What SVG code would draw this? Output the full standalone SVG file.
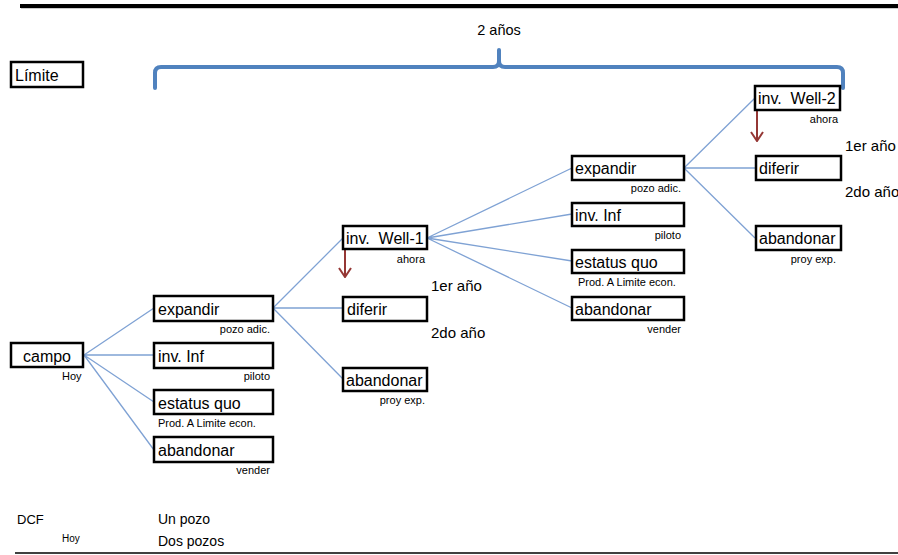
<svg xmlns="http://www.w3.org/2000/svg" width="898" height="555" viewBox="0 0 898 555">
  <style>
    text { font-family: "Liberation Sans", Arial, sans-serif; fill: #000; }
    .box rect { fill: #fff; stroke: #000; stroke-width: 2.5; }
    .lbl { font-size: 16px; }
    .sub { font-size: 11px; }
    .yr { font-size: 15px; }
    .end { text-anchor: end; }
    .edge { stroke: #7fa2d4; stroke-width: 1.3; fill: none; }
    .step { stroke: #953735; stroke-width: 2; fill: none; }
  </style>
  <defs>
    <marker id="chev" viewBox="0 0 11 14" refX="10" refY="7" markerWidth="11" markerHeight="14" markerUnits="userSpaceOnUse" orient="auto">
      <path d="M1,1 L10,7 L1,13" fill="none" stroke="#953735" stroke-width="2"/>
    </marker>
  </defs>

  <!-- header rule -->
  <line x1="21" y1="8" x2="898" y2="8" stroke="#999" stroke-width="2" opacity="0.5"/>
  <line x1="20" y1="6" x2="898" y2="6" stroke="#000" stroke-width="4"/>

  <!-- time span brace -->
  <g id="brace">
    <path d="M155,88 V73 Q155,67 161,67 H493 Q499,67 499,61 V50 M499,61 Q499,67 505,67 H837 Q843,67 843,73 V88" fill="none" stroke="#5082be" stroke-width="4" stroke-linecap="round"/>
    <text x="499" y="35" font-size="14.5" text-anchor="middle">2 años</text>
  </g>

  <g id="limite" class="box">
    <rect x="11" y="62" width="72" height="25"/>
    <text class="lbl" x="15" y="81">Límite</text>
  </g>

  <!-- connectors -->
  <g id="connectors">
    <path class="edge" d="M84,355 L154,308 M84,355 L154,355 M84,355 L154,402 M84,355 L154,450"/>
    <path class="edge" d="M273,308 L343,238 M273,308 L343,308 M273,308 L343,379"/>
    <path class="edge" d="M427,238 L572,168 M427,238 L572,214 M427,238 L572,261 M427,238 L572,308"/>
    <path class="edge" d="M684,168 L755,98 M684,168 L755,168 M684,168 L755,238"/>
    <line class="step" x1="345" y1="250" x2="345" y2="277" marker-end="url(#chev)"/>
    <line class="step" x1="757" y1="111" x2="757" y2="141" marker-end="url(#chev)"/>
  </g>

  <!-- root -->
  <g id="campo" class="box">
    <rect x="11" y="343" width="72" height="24"/>
    <text class="lbl" x="47" y="362" text-anchor="middle">campo</text>
    <text class="sub" x="62" y="380">Hoy</text>
  </g>

  <!-- first stage -->
  <g id="n1-expandir" class="box">
    <rect x="154" y="296" width="119" height="25"/>
    <text class="lbl" x="158" y="315">expandir</text>
    <text class="sub end" x="270" y="333">pozo adic.</text>
  </g>
  <g id="n1-inv" class="box">
    <rect x="154" y="343" width="119" height="25"/>
    <text class="lbl" x="158" y="362">inv. Inf</text>
    <text class="sub end" x="270" y="380">piloto</text>
  </g>
  <g id="n1-estatus" class="box">
    <rect x="154" y="390" width="119" height="24"/>
    <text class="lbl" x="158" y="409">estatus quo</text>
    <text class="sub" x="158" y="427">Prod. A Limite econ.</text>
  </g>
  <g id="n1-abandonar" class="box">
    <rect x="154" y="437" width="119" height="25"/>
    <text class="lbl" x="158" y="456">abandonar</text>
    <text class="sub end" x="270" y="474">vender</text>
  </g>

  <!-- second stage -->
  <g id="n2-well1" class="box">
    <rect x="343" y="226" width="84" height="23"/>
    <text class="lbl" x="346" y="244" xml:space="preserve">inv.  Well-1</text>
    <text class="sub end" x="425" y="263">ahora</text>
  </g>
  <g id="n2-diferir" class="box">
    <rect x="343" y="297" width="84" height="24"/>
    <text class="lbl" x="347" y="315">diferir</text>
  </g>
  <g id="n2-abandonar" class="box">
    <rect x="343" y="368" width="84" height="23"/>
    <text class="lbl" x="346" y="386">abandonar</text>
    <text class="sub end" x="425" y="404">proy exp.</text>
  </g>
  <text class="yr" x="431" y="291">1er año</text>
  <text class="yr" x="431" y="338">2do año</text>

  <!-- third stage -->
  <g id="n3-expandir" class="box">
    <rect x="572" y="156" width="112" height="24"/>
    <text class="lbl" x="575" y="174">expandir</text>
    <text class="sub end" x="681" y="192">pozo adic.</text>
  </g>
  <g id="n3-inv" class="box">
    <rect x="572" y="203" width="112" height="23"/>
    <text class="lbl" x="575" y="221">inv. Inf</text>
    <text class="sub end" x="681" y="239">piloto</text>
  </g>
  <g id="n3-estatus" class="box">
    <rect x="572" y="250" width="112" height="23"/>
    <text class="lbl" x="575" y="268">estatus quo</text>
    <text class="sub" x="578" y="286">Prod. A Limite econ.</text>
  </g>
  <g id="n3-abandonar" class="box">
    <rect x="572" y="297" width="112" height="23"/>
    <text class="lbl" x="575" y="315">abandonar</text>
    <text class="sub end" x="681" y="333">vender</text>
  </g>

  <!-- fourth stage -->
  <g id="n4-well2" class="box">
    <rect x="755" y="86" width="85" height="24"/>
    <text class="lbl" x="758" y="104" xml:space="preserve">inv.  Well-2</text>
    <text class="sub end" x="838" y="123">ahora</text>
  </g>
  <g id="n4-diferir" class="box">
    <rect x="756" y="156" width="85" height="24"/>
    <text class="lbl" x="759" y="174">diferir</text>
  </g>
  <g id="n4-abandonar" class="box">
    <rect x="756" y="226" width="85" height="24"/>
    <text class="lbl" x="759" y="244">abandonar</text>
    <text class="sub end" x="836" y="263">proy exp.</text>
  </g>
  <text class="yr" x="845" y="151">1er año</text>
  <text class="yr" x="845" y="197">2do año</text>

  <!-- valuation footer -->
  <g id="footer">
    <text x="17" y="524" font-size="13">DCF</text>
    <text x="62" y="542" font-size="10">Hoy</text>
    <text x="158" y="524" font-size="14">Un pozo</text>
    <text x="158" y="546" font-size="14">Dos pozos</text>
    <line x1="15" y1="553" x2="898" y2="553" stroke="#000" stroke-width="1.3"/>
  </g>
</svg>
